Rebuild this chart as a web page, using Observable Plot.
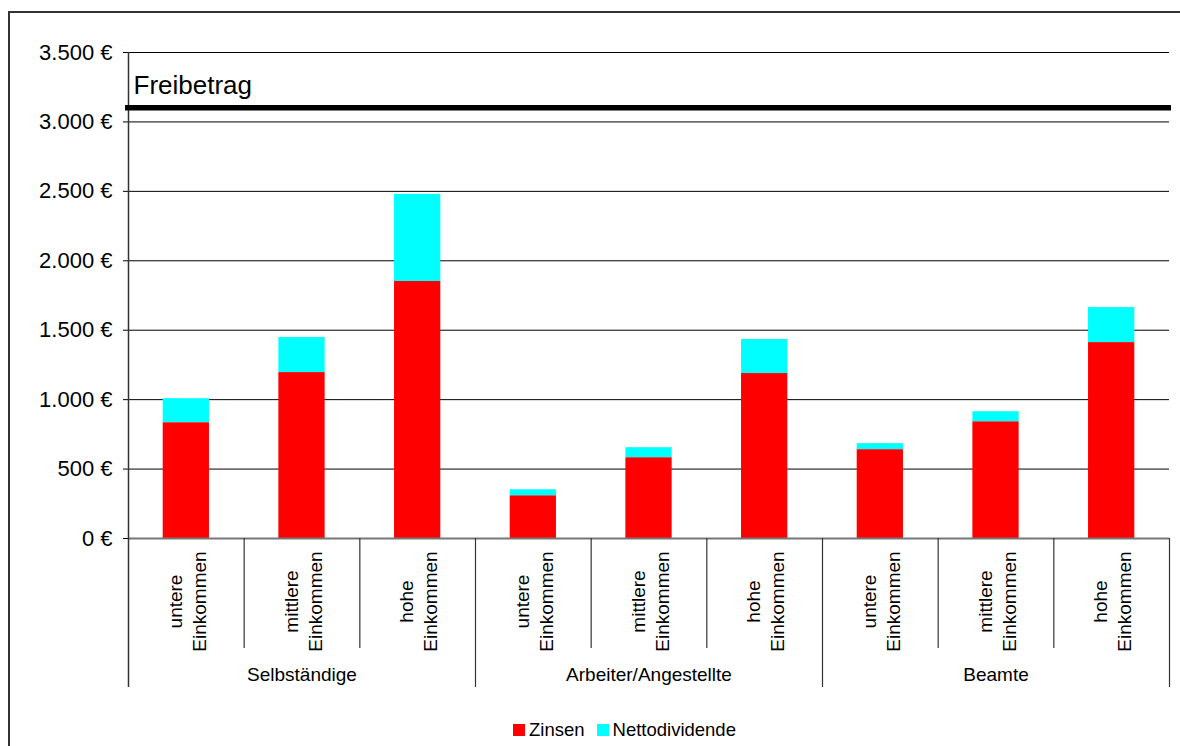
<!DOCTYPE html>
<html><head><meta charset="utf-8">
<script src="https://cdn.jsdelivr.net/npm/d3@7"></script>
<script src="https://cdn.jsdelivr.net/npm/@observablehq/plot@0.6"></script>
<style>
body{margin:0;background:#fff;font-family:"Liberation Sans",Arial,sans-serif;overflow:hidden;}
#frame{position:absolute;left:8px;top:11px;width:1300px;height:900px;border:2px solid #333;box-sizing:border-box;}
#chart{position:absolute;left:0;top:0;}
#legend{position:absolute;left:513px;top:713px;}
.lg-swatch{margin-right:12px !important;}
.lg-swatch > svg{margin-right:4px !important;}
</style></head><body>
<div id="frame"></div><div id="chart"></div><div id="legend"></div>
<script>
const groups = ["Selbständige", "Arbeiter/Angestellte", "Beamte"];
const incomes = ["untere\nEinkommen", "mittlere\nEinkommen", "hohe\nEinkommen"];
const series = ["Zinsen", "Nettodividende"];
const colors = ["#ff0000", "#00ffff"];
const zinsen = [834, 1195, 1851, 308, 582, 1188, 640, 841, 1411];
const dividende = [173, 252, 627, 43, 72, 245, 43, 72, 252];
const yTicks = [0, 500, 1000, 1500, 2000, 2500, 3000, 3500];
const freibetrag = 3102;
const freibetragLabel = "Freibetrag";

const keys = groups.flatMap(g => incomes.map(i => g + "|" + i));
const rows = [];
keys.forEach((k, i) => {
  rows.push({key: k, series: series[0], value: zinsen[i]});
  rows.push({key: k, series: series[1], value: dividende[i]});
});

const W = 1180, H = 712, ML = 128, MR = 11, MT = 52, MB = 174;
const step = (W - ML - MR) / keys.length;
const fmt = d => d3.format(",")(d).replace(/,/g, ".") + " €";
const font = "Liberation Sans, Arial, sans-serif";

const chart = Plot.plot({
  width: W, height: H,
  marginLeft: ML, marginRight: MR, marginTop: MT, marginBottom: MB,
  style: {fontSize: "22px", fontFamily: font, color: "#000", background: "transparent"},
  x: {type: "band", domain: keys, paddingInner: 0.6, paddingOuter: 0.3, round: false, axis: null},
  y: {domain: [0, 3500], ticks: yTicks, tickFormat: fmt, tickSize: 5, tickPadding: 11, label: null},
  color: {domain: series, range: colors},
  marks: [
    Plot.ruleY(yTicks.slice(1), {stroke: "#000", strokeWidth: 1}),
    Plot.barY(rows, {x: "key", y: "value", fill: "series"}),
    Plot.ruleY([0], {stroke: "#777", strokeWidth: 2}),
    Plot.ruleX([keys[0]], {dx: -step / 2, insetBottom: -149, stroke: "#333", strokeWidth: 1.5}),
    Plot.ruleX(keys.filter((k, i) => i % 3 !== 0), {x: d => d, dx: -step / 2, y1: 0, y2: 0, insetBottom: -110, stroke: "#333", strokeWidth: 1.2}),
    Plot.ruleX(keys.filter((k, i) => i > 0 && i % 3 === 0), {x: d => d, dx: -step / 2, y1: 0, y2: 0, insetBottom: -149, stroke: "#333", strokeWidth: 1.2}),
    Plot.ruleX([keys[keys.length - 1]], {x: d => d, dx: step / 2, y1: 0, y2: 0, insetBottom: -149, stroke: "#333", strokeWidth: 1.2}),
    Plot.ruleY([freibetrag], {stroke: "#000", strokeWidth: 5.5, insetLeft: -3, insetRight: -2}),
    Plot.text([{label: freibetragLabel, value: freibetrag}], {text: "label", y: "value", frameAnchor: "left", textAnchor: "start", lineAnchor: "middle", dx: 5, dy: -22, fontSize: 26, fill: "#000"}),
    Plot.text(keys, {x: d => d, text: d => d.split("|")[1], frameAnchor: "bottom", rotate: -90, dy: 63, fontSize: 19, lineHeight: 1.26, textAnchor: "middle", lineAnchor: "middle", fill: "#000"}),
    Plot.text(groups, {x: g => g + "|" + incomes[1], text: d => d, frameAnchor: "bottom", dy: 136, fontSize: 19, lineAnchor: "middle", fill: "#000"})
  ]
});
document.getElementById("chart").appendChild(chart);

const legend = Plot.legend({
  color: {domain: series, range: colors, type: "ordinal"},
  swatchSize: 12,
  className: "lg",
  style: {fontSize: "18.5px", fontFamily: font, color: "#000"}
});
document.getElementById("legend").appendChild(legend);
</script>
</body></html>
